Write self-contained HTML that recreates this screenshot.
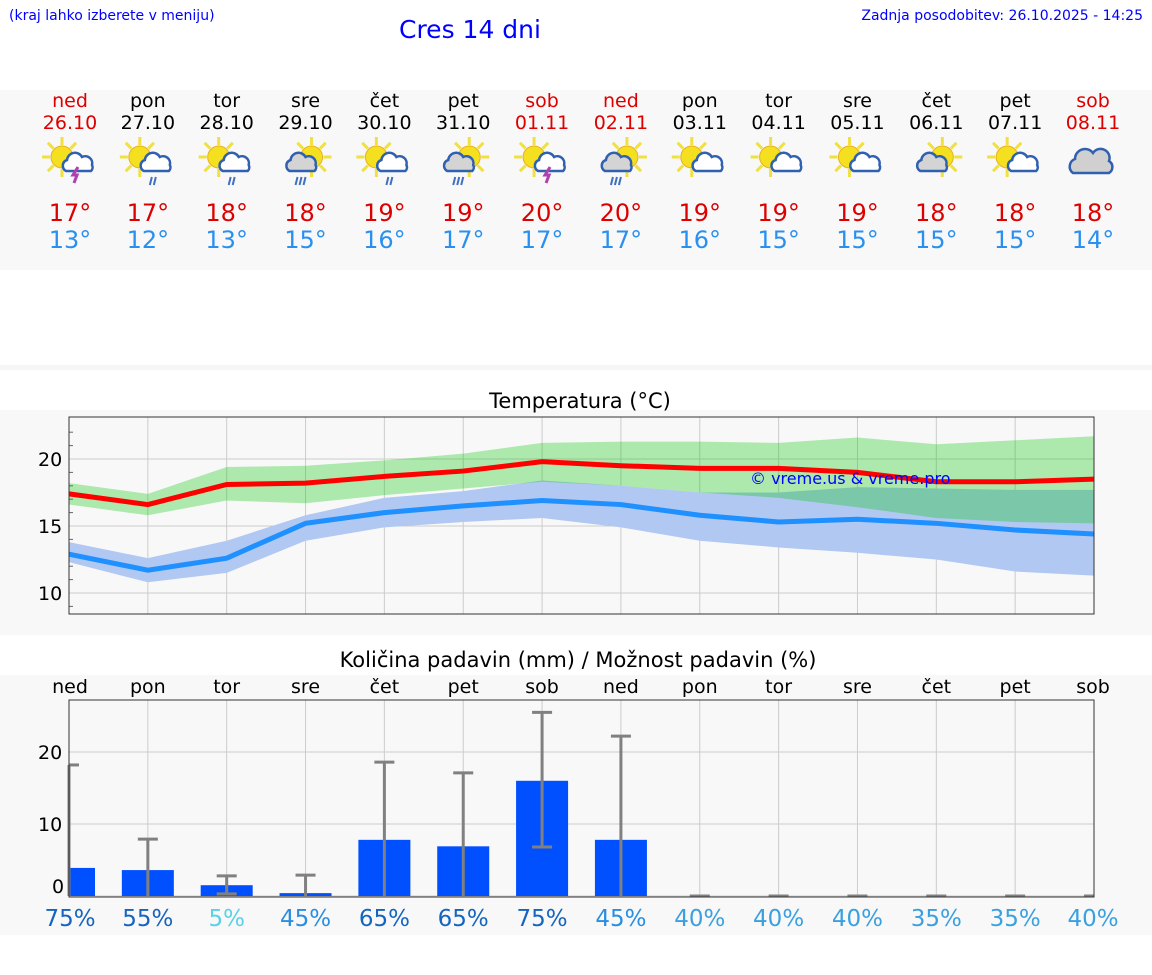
<!DOCTYPE html>
<html><head><meta charset="utf-8"><style>
body{margin:0;width:1152px;height:975px;background:#fff;font-family:"DejaVu Sans","Liberation Sans",sans-serif;position:relative;overflow:hidden}
.a{position:absolute}
</style></head><body>
<div class="a" style="left:9px;top:8px;font-size:14px;color:#00f">(kraj lahko izberete v meniju)</div>
<div class="a" style="left:399px;top:15px;font-size:25px;color:#00f">Cres 14 dni</div>
<div class="a" style="right:9px;top:8px;font-size:14px;color:#00f">Zadnja posodobitev: 26.10.2025 - 14:25</div>
<div class="a" style="left:0;top:90px;width:1152px;height:180px;background:#f8f8f8"></div>
<div class="a" style="left:0;top:365px;width:1152px;height:5px;background:#f6f6f6"></div>
<div class="a" style="left:0;top:410px;width:1152px;height:225px;background:#f8f8f8"></div>
<div class="a" style="left:0;top:675px;width:1152px;height:260px;background:#f8f8f8"></div>
<svg class="a" style="left:0;top:0" width="1152" height="975" id="s" font-family="DejaVu Sans, Liberation Sans, sans-serif"></svg>
<script>
const days=["ned","pon","tor","sre","čet","pet","sob","ned","pon","tor","sre","čet","pet","sob"];
const dates=["26.10","27.10","28.10","29.10","30.10","31.10","01.11","02.11","03.11","04.11","05.11","06.11","07.11","08.11"];
const icons=["ts","rain","rain","crain","rain","crain","ts","crain","pc","pc","pc","cpc","pc","cloud"];
const tmax=[17,17,18,18,19,19,20,20,19,19,19,18,18,18];
const tmin=[13,12,13,15,16,17,17,17,16,15,15,15,15,14];
const redLine=[17.4,16.6,18.1,18.2,18.7,19.1,19.8,19.5,19.3,19.3,19.0,18.3,18.3,18.5];
const redHi=[18.2,17.4,19.4,19.5,19.9,20.4,21.2,21.3,21.3,21.2,21.6,21.1,21.4,21.7];
const redLo=[16.6,15.8,16.9,16.7,17.3,17.8,18.3,18.0,17.5,17.1,16.4,15.6,15.3,15.2];
const blueLine=[12.9,11.7,12.6,15.2,16.0,16.5,16.9,16.6,15.8,15.3,15.5,15.2,14.7,14.4];
const blueHi=[13.8,12.6,13.9,15.8,17.1,17.6,18.4,18.0,17.5,17.5,17.9,17.8,17.7,17.7];
const blueLo=[12.3,10.8,11.5,13.9,14.9,15.3,15.6,14.9,13.9,13.4,13.0,12.5,11.6,11.3];
const tTicks=[10,15,20];
const rain=[3.9,3.6,1.5,0.4,7.8,6.9,16,7.8,0,0,0,0,0,0];
const rainHi=[18.2,7.9,2.8,2.9,18.6,17.1,25.5,22.2,0,0,0,0,0,0];
const rainLo=[0,0,0.3,0,0,0,6.8,0,0,0,0,0,0,0];
const rTicks=[0,10,20];
const prob=[75,55,5,45,65,65,75,45,40,40,40,35,35,40];
const S=document.getElementById('s');const NS="http://www.w3.org/2000/svg";
function el(t,a,p){const e=document.createElementNS(NS,t);for(const k in a)e.setAttribute(k,a[k]);(p||S).appendChild(e);return e;}
const X0=69,X1=1094,dx=(X1-X0)/13;
const xd=i=>X0+i*dx;
const yT=v=>459-(v-20)*13.4;
const yR=v=>896-v*7.2;
const wk=i=>i==0||i==6||i==7||i==13;
for(let i=0;i<14;i++){
  const cx=i==0?70:i==13?1093:xd(i);
  let t=el('text',{x:cx,y:107,'text-anchor':'middle','font-size':19,fill:wk(i)?'#d00':'#000'});t.textContent=days[i];
  
  t=el('text',{x:cx,y:129,'text-anchor':'middle','font-size':19,fill:wk(i)?'#d00':'#000'});t.textContent=dates[i];
  
  t=el('text',{x:cx,y:221,'text-anchor':'middle','font-size':24,fill:'#d00'});t.textContent=tmax[i]+'°';
  
  t=el('text',{x:cx,y:248,'text-anchor':'middle','font-size':24,fill:'#2a90f0'});t.textContent=tmin[i]+'°';
  
  const g=el('g',{transform:`translate(${cx},163)`});
  
  const k=icons[i];
  if(k!='cloud'){const sx=k.startsWith('c')?6:-8;
    for(let a=0;a<8;a++){const r=a*Math.PI/4;el('line',{x1:sx+Math.cos(r)*12,y1:-6+Math.sin(r)*12,x2:sx+Math.cos(r)*20,y2:-6+Math.sin(r)*20,stroke:'#f0e040','stroke-width':3},g);}
    el('circle',{cx:sx,cy:-6,r:11,fill:'#f5e020',stroke:'#e8b020'},g);}
  const cf=(k.startsWith('c')||k=='cloud')?'#d4d4d4':'#fff';
  const cxo=k.startsWith('c')?-4:8;
  if(k=='cloud'){el('path',{d:'M-20,10 a8,8 0 0 1 2,-14 a10,10 0 0 1 18,-6 a9,9 0 0 1 16,8 a7,7 0 0 1 0,12 z',fill:'#d0d0d0',stroke:'#3060b0','stroke-width':2.5},g);}
  else el('path',{d:`M${cxo-12},8 a6,6 0 0 1 1,-11 a8,8 0 0 1 15,-3 a7,7 0 0 1 10,8 a5,5 0 0 1 -1,6 z`,fill:cf,stroke:'#3060b0','stroke-width':2.5},g);
  if(k=='ts')el('path',{d:`M${cxo},4 l-5,8 h4 l-3,8`,stroke:'#b040b0','stroke-width':3,fill:'none'},g);
  if(k.includes('rain'))for(let j=0;j<(k=='crain'?3:2);j++)el('line',{x1:cxo-4+j*4,y1:14,x2:cxo-6+j*4,y2:22,stroke:'#4070c0','stroke-width':2},g);
}
let t=el('text',{x:580,y:408,'text-anchor':'middle','font-size':21});t.textContent='Temperatura (°C)';

el('rect',{x:X0,y:417,width:X1-X0,height:197,fill:'#f8f8f8'});
for(let i=1;i<13;i++)el('line',{x1:xd(i),y1:417,x2:xd(i),y2:614,stroke:'#ccc'});
for(let v=9;v<=22;v++)el('line',{x1:X0,y1:yT(v),x2:X0+4,y2:yT(v),stroke:'#666'});
tTicks.forEach(v=>{el('line',{x1:X0,y1:yT(v),x2:X1,y2:yT(v),stroke:'#ccc'});
  const tt=el('text',{x:38,y:yT(v)+7,'font-size':19});tt.textContent=v;
  });
function band(hi,lo,f,o){let d='';hi.forEach((v,i)=>d+=(i?'L':'M')+xd(i)+','+yT(v));for(let i=lo.length-1;i>=0;i--)d+='L'+xd(i)+','+yT(lo[i]);return el('path',{d:d+'Z',fill:f,'fill-opacity':o});}
function line(a,c){return el('polyline',{points:a.map((v,i)=>xd(i)+','+yT(v)).join(' '),fill:'none',stroke:c,'stroke-width':5});}
let b=band(blueHi,blueLo,'#b0c8f2',1);
b=band(redHi,redLo,'rgb(0,200,0)',0.3);
let l=line(redLine,'#f00');
l=line(blueLine,'#1e90ff');
t=el('text',{x:750,y:484,'font-size':16,fill:'#00f'});t.textContent='© vreme.us & vreme.pro';

el('rect',{x:X0,y:417,width:X1-X0,height:197,fill:'none',stroke:'#333'});
t=el('text',{x:578,y:667,'text-anchor':'middle','font-size':21});t.textContent='Količina padavin (mm) / Možnost padavin (%)';

el('rect',{x:X0,y:700,width:X1-X0,height:197,fill:'#f8f8f8'});
for(let i=1;i<13;i++)el('line',{x1:xd(i),y1:700,x2:xd(i),y2:897,stroke:'#ccc'});
rTicks.forEach(v=>{el('line',{x1:X0,y1:yR(v),x2:X1,y2:yR(v),stroke:'#ccc'});
  const tt=el('text',{x:v?38:52,y:yR(v)+(v?7:-3),'font-size':19});tt.textContent=v;
  });
const pc=p=>p>=55?'#1565c0':p>=45?'#2a8ee0':p>=35?'#3aa0e0':'#5bd0e8';
for(let i=0;i<14;i++){
  const cx=i==0?70:i==13?1093:xd(i);
  let tt=el('text',{x:cx,y:693,'text-anchor':'middle','font-size':19});tt.textContent=days[i];
  
  const x=xd(i),x0=Math.max(X0,x-26),x1=Math.min(X1,x+26);
  if(rain[i]>0){const r=el('rect',{x:x0,y:yR(rain[i]),width:x1-x0,height:yR(0)-yR(rain[i]),fill:'#0050ff'});
    }
  const e=el('g',{stroke:'#808080','stroke-width':3});
  
  el('line',{x1:x,y1:yR(rainLo[i]),x2:x,y2:yR(rainHi[i])},e);
  el('line',{x1:Math.max(X0,x-10),y1:yR(rainHi[i]),x2:Math.min(X1,x+10),y2:yR(rainHi[i])},e);
  if(rainLo[i]>0)el('line',{x1:x-10,y1:yR(rainLo[i]),x2:x+10,y2:yR(rainLo[i])},e);
  tt=el('text',{x:cx,y:926,'text-anchor':'middle','font-size':23,fill:pc(prob[i])});tt.textContent=prob[i]+'%';
  
}
el('rect',{x:X0,y:700,width:X1-X0,height:197,fill:'none',stroke:'#333'});
</script>
</body></html>
